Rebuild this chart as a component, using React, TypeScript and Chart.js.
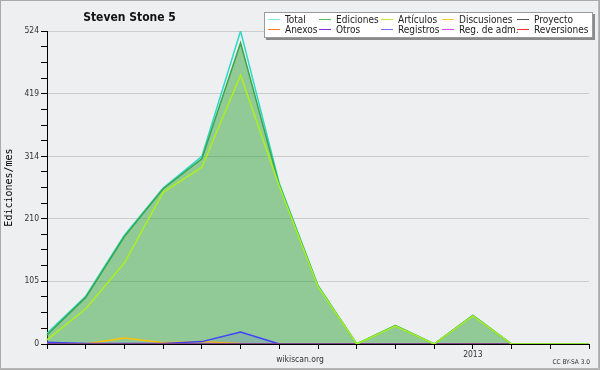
import React, { useEffect, useRef } from "react";
import { Chart, registerables } from "chart.js";

Chart.register(...registerables);

const months = [
  "2012-02", "2012-03", "2012-04", "2012-05", "2012-06", "2012-07", "2012-08",
  "2012-09", "2012-10", "2012-11", "2012-12", "2013-01", "2013-02", "2013-03", "2013-04",
];
const total = [18, 80, 182, 261, 314, 524, 269, 98, 0, 31, 0, 48, 0, 0, 0];
const ediciones = [15, 78, 180, 260, 310, 504, 266, 97, 0, 31, 0, 48, 0, 0, 0];
const articulos = [7, 59, 136, 254, 296, 450, 264, 96, 0, 30, 0, 47, 0, 0, 0];
const discusiones = [0, 0, 10, 2, 4, 1, 0, 0, 0, 0, 0, 0, 0, 0, 0];
const registros = [3, 1, 1, 1, 4, 20, 0, 0, 0, 0, 0, 0, 0, 0, 0];
const anexos = [0, 0, 0, 0, 0, 0, 0, 0, 0, 0, 0, 1, 0, 0, 0];
const zeros = [0, 0, 0, 0, 0, 0, 0, 0, 0, 0, 0, 0, 0, 0, 0];

const yTickLabels = [0, 105, 210, 314, 419, 524];

const legendNames = [
  "Total", "Ediciones", "Artículos", "Discusiones", "Proyecto",
  "Anexos", "Otros", "Registros", "Reg. de adm.", "Reversiones",
];
const legendColors = [
  "#7fe6dc", "#5cbf5c", "#c0f030", "#ffc820", "#555555",
  "#ff7a30", "#8a2be2", "#7070ff", "#e040fb", "#ff3030",
];

const COND = "'DejaVu Sans Condensed', 'DejaVu Sans', sans-serif";

const decorPlugin = {
  id: "decor",
  beforeDraw(chart: any) {
    const ctx = chart.ctx;
    ctx.save();
    ctx.fillStyle = "#eeeff0";
    ctx.fillRect(0, 0, chart.width, chart.height);
    ctx.restore();
  },
  afterDraw(chart: any) {
    const ctx = chart.ctx;
    ctx.save();
    ctx.strokeStyle = "#aaaaaa";
    ctx.lineWidth = 1;
    ctx.strokeRect(0.5, 0.5, chart.width - 1, chart.height - 1);
    ctx.strokeStyle = "#b8b8b8";
    ctx.beginPath();
    ctx.moveTo(chart.width - 1.5, 0);
    ctx.lineTo(chart.width - 1.5, chart.height);
    ctx.moveTo(0, chart.height - 1.5);
    ctx.lineTo(chart.width, chart.height - 1.5);
    ctx.stroke();

    ctx.fillStyle = "#111";
    ctx.font = "bold 12px " + COND;
    ctx.textAlign = "center";
    ctx.textBaseline = "alphabetic";
    ctx.fillText("Steven Stone 5", 129.5, 21);

    ctx.fillStyle = "#333";
    ctx.font = "8.5px " + COND;
    ctx.fillText("wikiscan.org", 300, 362);
    ctx.font = "6.5px " + COND;
    ctx.textAlign = "right";
    ctx.fillText("CC BY-SA 3.0", 590, 364);

    const bx = 264, by = 12, bw = 329, bh = 26;
    ctx.fillStyle = "#8a8a8a";
    ctx.fillRect(bx + 2, by + 2, bw, bh);
    ctx.fillStyle = "#ffffff";
    ctx.fillRect(bx, by, bw, bh);
    ctx.strokeStyle = "#9a9a9a";
    ctx.lineWidth = 1;
    ctx.strokeRect(bx + 0.5, by + 0.5, bw - 1, bh - 1);

    const colX = [268, 319, 381, 442, 517];
    const rowY = [19, 29];
    ctx.font = "10px " + COND;
    ctx.textAlign = "left";
    ctx.textBaseline = "middle";
    legendNames.forEach((name, i) => {
      const c = i % 5;
      const r = Math.floor(i / 5);
      const x = colX[c];
      const y = rowY[r];
      ctx.strokeStyle = legendColors[i];
      ctx.lineWidth = 1;
      ctx.beginPath();
      ctx.moveTo(x, y + 0.5);
      ctx.lineTo(x + 12, y + 0.5);
      ctx.stroke();
      ctx.fillStyle = "#222";
      ctx.fillText(name, x + 17, y + 1);
    });
    ctx.restore();
  },
};

function line(label: string, data: number[], color: string, extra: any = {}) {
  return {
    label,
    data,
    borderColor: color,
    backgroundColor: color,
    borderWidth: 1.5,
    pointRadius: 0,
    tension: 0,
    fill: false,
    ...extra,
  };
}

export default function App() {
  const ref = useRef<HTMLCanvasElement | null>(null);

  useEffect(() => {
    if (!ref.current) return;
    const chart = new Chart(ref.current, {
      type: "line",
      data: {
        labels: months,
        datasets: [
          line("Artículos", articulos, "#aaf020", { order: 0 }),
          line("Ediciones", ediciones, "#38a848", { order: 1 }),
          line("Total", total, "#30d8c8", { order: 2 }),
          line("Proyecto", zeros, "#555555", { order: 3, borderWidth: 1 }),
          line("Otros", zeros, "#8a2be2", { order: 3, borderWidth: 1 }),
          line("Reg. de adm.", zeros, "#e040fb", { order: 3, borderWidth: 1 }),
          line("Reversiones", zeros, "#ff3030", { order: 3, borderWidth: 1 }),
          line("Anexos", anexos, "#ff7a30", { order: 3, borderWidth: 1 }),
          line("Registros", registros, "#4040ff", {
            order: 4,
            fill: "origin",
            backgroundColor: "rgba(60,60,255,0.13)",
          }),
          line("Discusiones", discusiones, "#ffc400", { order: 5 }),
          line("Ediciones (área)", ediciones, "rgba(0,0,0,0)", {
            order: 10,
            borderWidth: 0,
            fill: "origin",
            backgroundColor: "rgba(40,160,50,0.47)",
          }),
        ],
      },
      options: {
        animation: false,
        responsive: false,
        maintainAspectRatio: false,
        layout: { padding: { top: 31, right: 11, bottom: 0, left: 0 } },
        plugins: {
          legend: { display: false },
          tooltip: { enabled: false },
          title: { display: false },
        },
        scales: {
          x: {
            type: "category",
            offset: false,
            grid: {
              drawOnChartArea: false,
              drawTicks: true,
              tickLength: 5,
              tickColor: "#000",
            },
            border: { color: "#000", width: 1 },
            ticks: {
              autoSkip: false,
              maxRotation: 0,
              padding: 1,
              color: "#333",
              font: { family: COND, size: 8.5 },
              callback: (_v: any, i: number) => (months[i] === "2013-01" ? "2013" : ""),
            },
            afterFit: (s: any) => {
              s.height = 26;
            },
          },
          y: {
            type: "linear",
            min: 0,
            max: yTickLabels[yTickLabels.length - 1],
            afterBuildTicks: (s: any) => {
              const t: any[] = [];
              for (let k = 0; k < yTickLabels.length - 1; k++) {
                const a = yTickLabels[k];
                const b = yTickLabels[k + 1];
                for (let j = 0; j < 4; j++) t.push({ value: a + ((b - a) * j) / 4 });
              }
              t.push({ value: yTickLabels[yTickLabels.length - 1] });
              s.ticks = t;
            },
            grid: {
              drawTicks: true,
              tickLength: 6,
              tickColor: "#000",
              color: (c: any) => (c.index % 4 === 0 && c.index > 0 ? "#cccccc" : "rgba(0,0,0,0)"),
            },
            border: { color: "#000", width: 1 },
            ticks: {
              padding: 2,
              color: "#333",
              font: { family: COND, size: 8.5 },
              callback: (_v: any, i: number) => (i % 4 === 0 ? String(yTickLabels[i / 4]) : ""),
            },
            title: {
              display: true,
              text: "Ediciones/mes",
              color: "#000",
              font: { family: "'DejaVu Sans Mono', monospace", size: 10 },
              padding: { top: 3, bottom: 0 },
            },
            afterFit: (s: any) => {
              s.width = 47;
            },
          },
        },
      },
      plugins: [decorPlugin],
    });
    return () => chart.destroy();
  }, []);

  return (
    <div style={{ position: "absolute", left: 0, top: 0, width: 600, height: 370 }}>
      <canvas ref={ref} width={600} height={370} style={{ display: "block", width: 600, height: 370 }} />
    </div>
  );
}
